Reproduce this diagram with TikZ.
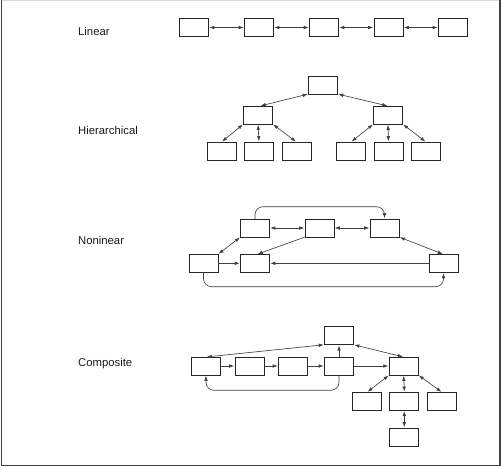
\documentclass[tikz,border=0pt]{standalone}
\usepackage{fontspec}
\setmainfont{Liberation Sans}
\usetikzlibrary{arrows.meta}
\begin{document}
\begin{tikzpicture}[x=1pt,y=-1pt,
  box/.style={draw=black!85, line width=1pt, minimum width=29pt, minimum height=18pt, inner sep=0pt, outer sep=0pt},
  lbl/.style={anchor=base west, font=\fontsize{11.3}{13}\selectfont, text=black!90, inner sep=0pt},
  tip/.tip={Latex[length=5pt,width=3.6pt]},
  dbl/.style={line width=0.65pt, draw=black!75, tip-tip, shorten <=0.8pt, shorten >=0.8pt},
  one/.style={line width=0.65pt, draw=black!75, -tip, shorten >=0.8pt}
]
\useasboundingbox (0,0) rectangle (504,467);
% frame
\draw[black!15, line width=0.6pt] (1.5,0.5) -- (500,0.5);
\draw[black!75, line width=1.6pt] (1.5,0) -- (1.5,465.5) -- (500,465.5) -- (500,0);

% labels
\node[lbl] (tl) at (78,35) {Linear};
\node[lbl] (th) at (78,134) {Hierarchical};
\node[lbl] (tn) at (78,244) {Noninear};
\node[lbl] (tc) at (78,366.3) {Composite};

% Linear
\node[box] (l1) at (194,27.5) {};
\node[box] (l2) at (259,27.5) {};
\node[box] (l3) at (324,27.5) {};
\node[box] (l4) at (388.5,27.5) {};
\node[box] (l5) at (453,27.5) {};
\draw[dbl] (l1) -- (l2);
\draw[dbl] (l2) -- (l3);
\draw[dbl] (l3) -- (l4);
\draw[dbl] (l4) -- (l5);

% Hierarchical
\node[box] (h0) at (323,85) {};
\node[box] (h1) at (258,115) {};
\node[box] (h2) at (388,115) {};
\node[box] (b1) at (221.5,151) {};
\node[box] (b2) at (259,151) {};
\node[box] (b3) at (296.5,151) {};
\node[box] (b4) at (351,151) {};
\node[box] (b5) at (388.5,151) {};
\node[box] (b6) at (426,151) {};
\draw[dbl] (h0.south west) -- ([xshift=2pt]h1.north);
\draw[dbl] (h0.south east) -- (h2.north);
\draw[dbl] (h1.south west) -- (b1.north);
\draw[dbl] (h1.south) -- (b2.north);
\draw[dbl] (h1.south east) -- (b3.north);
\draw[dbl] (h2.south west) -- (b4.north);
\draw[dbl] (h2.south) -- (b5.north);
\draw[dbl] (h2.south east) -- (b6.north);

% Nonlinear
\node[box] (na) at (255,228) {};
\node[box] (nb) at (319.5,228) {};
\node[box] (nc) at (384.5,228) {};
\node[box] (nd) at (203.5,263.3) {};
\node[box] (ne) at (255,263.3) {};
\node[box] (nf) at (443.5,263.3) {};
\draw[dbl] (na) -- (nb);
\draw[dbl] (nb) -- (nc);
\draw[dbl] (na.south west) -- (nd.north east);
\draw[dbl] (nc.south east) -- (nf.north);
\draw[one] (nb.south west) -- ([xshift=2pt]ne.north);
\draw[one] (nd) -- (ne);
\draw[one] (nf) -- (ne);
\draw[one, rounded corners=8pt] (na.north) -- ([yshift=12.3pt]na.north) -| (nc.north);
\draw[one, rounded corners=8pt] (nd.south) -- ([yshift=-14.4pt]nd.south) -| (nf.south);

% Composite
\node[box] (ct) at (339,335.7) {};
\node[box] (p1) at (206,366) {};
\node[box] (p2) at (249.5,366) {};
\node[box] (p3) at (293,366) {};
\node[box] (p4) at (339,366) {};
\node[box] (cr) at (403.7,366) {};
\node[box] (q1) at (367,401.3) {};
\node[box] (q2) at (404.3,401.3) {};
\node[box] (q3) at (442,401.3) {};
\node[box] (cz) at (404.3,437) {};
\draw[dbl] (ct.south west) -- (p1.north);
\draw[dbl] (ct.south east) -- (cr.north);
\draw[one] (p4.north) -- (ct.south);
\draw[one] (p1) -- (p2);
\draw[one] (p2) -- (p3);
\draw[one] (p3) -- (p4);
\draw[one] (p4) -- (cr);
\draw[one, rounded corners=8pt] (p4.south) -- ([yshift=-15.3pt]p4.south) -| (p1.south);
\draw[dbl] (cr.south west) -- (q1.north);
\draw[dbl] (cr.south) -- (q2.north);
\draw[dbl] (cr.south east) -- (q3.north);
\draw[dbl] (q2.south) -- (cz.north);
\end{tikzpicture}
\end{document}
